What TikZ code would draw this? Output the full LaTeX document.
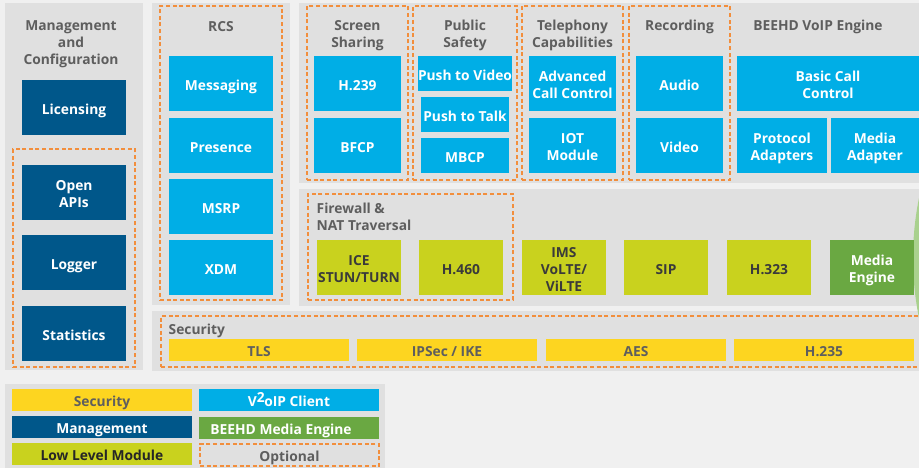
\documentclass[tikz,border=0pt]{standalone}
\usepackage{fontspec}
\setmainfont{Open Sans}
\definecolor{bgc}{HTML}{F0F0F0}
\definecolor{panelc}{HTML}{E0E0E0}
\definecolor{cyanb}{HTML}{00AEE6}
\definecolor{navyb}{HTML}{00578A}
\definecolor{limeb}{HTML}{C9D21E}
\definecolor{yelb}{HTML}{FDD520}
\definecolor{grnb}{HTML}{6AA842}
\definecolor{lgrn}{HTML}{A9D18E}
\definecolor{orng}{HTML}{F28E3C}
\definecolor{ttl}{HTML}{5E5E5E}
\definecolor{dtxt}{HTML}{3A3A3A}
\newcommand{\tsa}{\rule{0pt}{1.25em}}
\newcommand{\tsb}{\rule[-0.25em]{0pt}{0.25em}}
\newcommand{\bx}[7]{\node[#1, minimum width={(#5-#3)*1pt}, minimum height={(#6-#4)*1pt}] (#2) at ({(#3+#5)/2},{(#4+#6)/2}) {\tsa #7\tsb};}
\tikzset{
  base/.style={inner sep=0pt, outer sep=0pt, align=center, font=\fontsize{13.8}{17}\selectfont\bfseries},
  panel/.style={base, fill=panelc},
  cbox/.style={base, fill=cyanb, text=white},
  nbox/.style={base, fill=navyb, text=white},
  lbox/.style={base, fill=limeb, text=dtxt},
  ybox/.style={base, fill=yelb, text=ttl},
  gbox/.style={base, fill=grnb, text=white},
  dbox/.style={base, draw=orng, line width=1.1pt, dash pattern=on 4pt off 2.6pt},
  ttlnode/.style={inner sep=0pt, align=center, text=ttl, font=\fontsize{13.8}{17}\selectfont\bfseries},
}
\begin{document}
\begin{tikzpicture}[x=1pt,y=-1pt]
\fill[bgc] (0,0) rectangle (919,468);
\useasboundingbox (0,0) rectangle (919,468);
% panels
\bx{panel}{mgmtP}{5}{3}{143}{370}{}
\bx{panel}{rcsP}{152}{3}{290}{305}{}
\bx{panel}{topP}{299}{3}{925}{183}{}
\bx{panel}{midP}{299}{189}{925}{306}{}
\bx{panel}{secP}{152}{311}{925}{371}{}
\bx{panel}{legP}{5}{384}{385}{475}{}
% green shape at right edge
\fill[lgrn] (1213,258) circle (300pt);
% dashed groups
\bx{dbox}{mgmtD}{13}{149}{135}{367}{}
\bx{dbox}{rcsD}{160}{6}{282}{300}{}
\bx{dbox}{scrD}{307}{6}{408}{180}{}
\bx{dbox}{pubD}{413}{6}{517}{180}{}
\bx{dbox}{telD}{522}{6}{623}{180}{}
\bx{dbox}{recD}{629}{6}{730}{180}{}
\bx{dbox}{fwD}{308}{194}{513}{300}{}
\bx{dbox}{secD}{161}{316}{930}{367}{}
% titles
\node[ttlnode] (tMgmt) at (71,40.8) {\tsa Management\\and\\Configuration\tsb};
\node[ttlnode] (tRcs) at (221,24.2) {\tsa RCS\tsb};
\node[ttlnode] (tScr) at (357.5,32.5) {\tsa Screen\\Sharing\tsb};
\node[ttlnode] (tPub) at (465,32.5) {\tsa Public\\Safety\tsb};
\node[ttlnode] (tTel) at (572.5,32.5) {\tsa Telephony\\Capabilities\tsb};
\node[ttlnode] (tRec) at (679.5,24) {\tsa Recording\tsb};
\node[ttlnode] (tEng) at (818,24) {\tsa BEEHD VoIP Engine\tsb};
\node[ttlnode, anchor=west, align=left] (tFw) at (316.5,214.8) {\tsa Firewall \&\\NAT Traversal\tsb};
\node[ttlnode, anchor=west] (tSec) at (168.5,327.3) {\tsa Security\tsb};
% management
\bx{nbox}{lic}{22}{80}{126}{135}{Licensing}
\bx{nbox}{api}{22}{165}{126}{220}{Open\\APIs}
\bx{nbox}{log}{22}{235}{126}{290}{Logger}
\bx{nbox}{sta}{22}{306}{126}{361}{Statistics}
% RCS
\bx{cbox}{msg}{169}{56}{273}{111}{Messaging}
\bx{cbox}{pre}{169}{118}{273}{173}{Presence}
\bx{cbox}{msrp}{169}{179}{273}{234}{MSRP}
\bx{cbox}{xdm}{169}{240}{273}{295}{XDM}
% screen sharing
\bx{cbox}{h239}{314}{56}{401}{111}{H.239}
\bx{cbox}{bfcp}{314}{118}{401}{173}{BFCP}
% public safety
\bx{cbox}{ptv}{421}{56}{509}{91}{Push to Video}
\bx{cbox}{ptt}{421}{97}{509}{132}{Push to Talk}
\bx{cbox}{mbcp}{421}{138}{509}{173}{MBCP}
% telephony
\bx{cbox}{acc}{529}{56}{616}{111}{Advanced\\Call Control}
\bx{cbox}{iot}{529}{118}{616}{173}{IOT\\Module}
% recording
\bx{cbox}{aud}{636}{56}{723}{111}{Audio}
\bx{cbox}{vid}{636}{118}{723}{173}{Video}
% engine
\bx{cbox}{bcc}{737}{56}{919}{111}{Basic Call\\Control}
\bx{cbox}{pad}{737}{118}{827}{173}{Protocol\\Adapters}
\bx{cbox}{mad}{831}{118}{919}{173}{Media\\Adapter}
% low level
\bx{lbox}{ice}{317}{240}{401}{295}{ICE\\STUN/TURN}
\bx{lbox}{h460}{419}{240}{503}{295}{H.460}
\bx{lbox}{ims}{522}{240}{606}{295}{IMS\\VoLTE/\\ViLTE}
\bx{lbox}{sip}{624}{240}{708}{295}{SIP}
\bx{lbox}{h323}{727}{240}{811}{295}{H.323}
\bx{gbox}{meng}{830}{240}{914}{295}{Media\\Engine}
% security
\bx{ybox}{tls}{169}{339}{349}{361}{TLS}
\bx{ybox}{ipsec}{357}{339}{537}{361}{IPSec / IKE}
\bx{ybox}{aes}{546}{339}{726}{361}{AES}
\bx{ybox}{h235}{734}{339}{914}{361}{H.235}
% legend
\bx{ybox}{lgSec}{12}{389}{192}{411}{Security}
\bx{cbox}{lgV}{199}{389}{379}{411}{V\raisebox{4pt}{2}\kern-0.5pt oIP Client}
\bx{nbox}{lgMg}{12}{416}{192}{438}{Management}
\bx{gbox}{lgMe}{199}{417}{379}{439}{BEEHD Media Engine\kern16pt}
\bx{lbox,text=black!85}{lgLl}{12}{443}{192}{465}{Low Level Module}
\bx{dbox,text=ttl}{lgOp}{200}{444}{379}{466}{Optional}
\end{tikzpicture}
\end{document}
